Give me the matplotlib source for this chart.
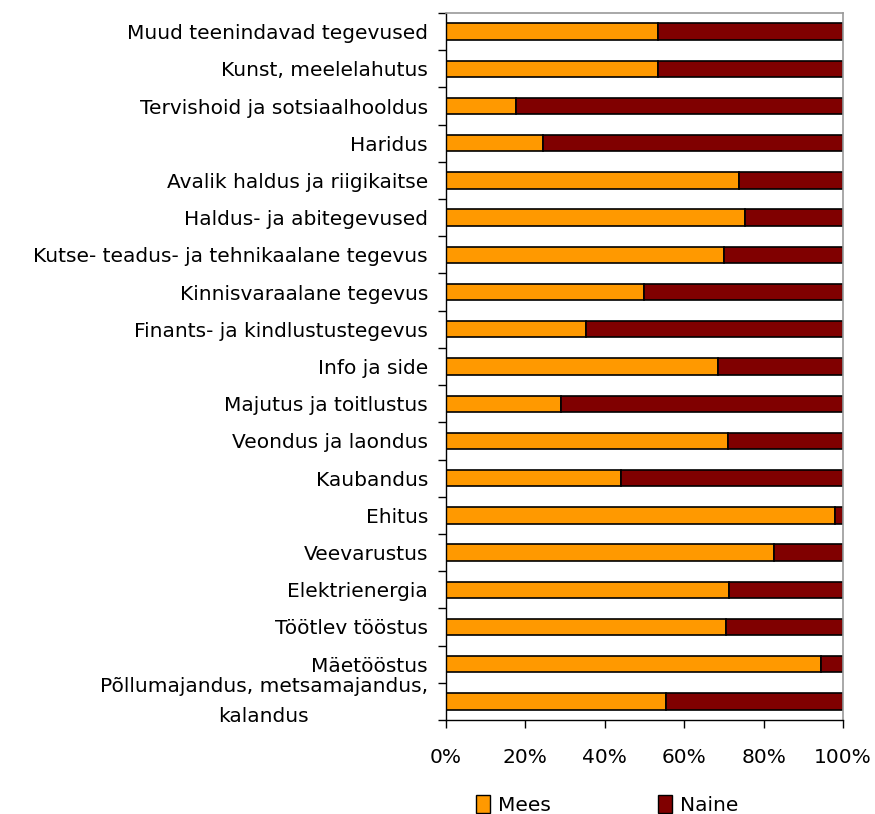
import matplotlib
matplotlib.use("Agg")
import matplotlib.pyplot as plt
import numpy as np
from matplotlib.patches import Patch

plt.rcParams['font.family'] = ['DejaVu Sans']

categories = [
    "Muud teenindavad tegevused",
    "Kunst, meelelahutus",
    "Tervishoid ja sotsiaalhooldus",
    "Haridus",
    "Avalik haldus ja riigikaitse",
    "Haldus- ja abitegevused",
    "Kutse- teadus- ja tehnikaalane tegevus",
    "Kinnisvaraalane tegevus",
    "Finants- ja kindlustustegevus",
    "Info ja side",
    "Majutus ja toitlustus",
    "Veondus ja laondus",
    "Kaubandus",
    "Ehitus",
    "Veevarustus",
    "Elektrienergia",
    "Töötlev tööstus",
    "Mäetööstus",
    "Põllumajandus, metsamajandus,\nkalandus",
]
mees = [53.3, 53.3, 17.6, 24.5, 73.9, 75.4, 70.1, 49.9, 35.3, 68.5,
        28.9, 71.0, 44.1, 97.9, 82.7, 71.4, 70.5, 94.5, 55.3]
naine = [100 - m for m in mees]
xticks = [0, 20, 40, 60, 80, 100]
xticklabels = ["0%", "20%", "40%", "60%", "80%", "100%"]

FS = 14.5

fig = plt.figure(figsize=(8.75, 8.14), dpi=100)
ax = fig.add_axes([446/875, (814-720)/814, (843-446)/875, (720-13)/814])

n = len(categories)
y = np.arange(n)[::-1]
h = 0.44
ax.barh(y, mees, height=h, color="#FF9900", edgecolor="black", linewidth=1.2, label="Mees")
ax.barh(y, naine, left=mees, height=h, color="#800000", edgecolor="black", linewidth=1.2, label="Naine")

ax.set_xlim(0, 100)
ax.set_ylim(-0.5, n - 0.5)
ax.set_xticks(xticks)
ax.set_xticklabels(xticklabels, fontsize=FS)
ax.set_yticks(y)
labels = ax.set_yticklabels(categories, fontsize=FS, multialignment="center")
for lab in labels:
    if "\n" in lab.get_text():
        lab.set_linespacing(1.75)
        lab.set_verticalalignment("center")
ax.tick_params(axis="y", length=0, pad=13)
ax.set_yticks(np.arange(-0.5, n, 1.0), minor=True)
ax.tick_params(axis="y", which="minor", length=6, width=1, color="black")
ax.tick_params(axis="x", length=6, width=1, pad=14)

for s in ["top", "right"]:
    ax.spines[s].set_color("#999999")
    ax.spines[s].set_linewidth(1.2)
for s in ["left", "bottom"]:
    ax.spines[s].set_color("black")
    ax.spines[s].set_linewidth(1.0)

handles = [Patch(facecolor="#FF9900", edgecolor="black", label="Mees"),
           Patch(facecolor="#800000", edgecolor="black", label="Naine")]
fig.legend(handles=handles, loc="center", bbox_to_anchor=(607/875, 1 - 805/814),
           ncol=2, frameon=False, fontsize=FS, handlelength=0.7, handleheight=1.0,
           handletextpad=0.4, columnspacing=5.3, borderpad=0)

fig.savefig("out.png", dpi=100)
